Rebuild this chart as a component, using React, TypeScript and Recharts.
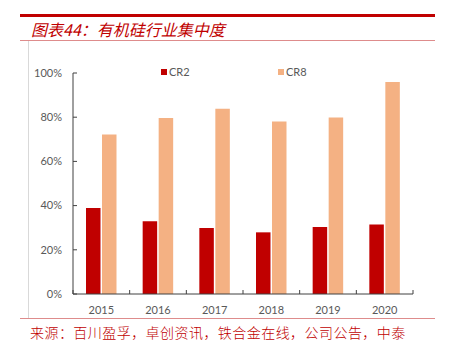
import React from "react";
import { BarChart, Bar, XAxis, YAxis } from "recharts";

const years = ["2015", "2016", "2017", "2018", "2019", "2020"];
const cr2 = [38.9, 32.9, 29.9, 27.9, 30.3, 31.5];
const cr8 = [72.2, 79.6, 83.8, 78.1, 79.9, 95.9];
const yTicks = [0, 20, 40, 60, 80, 100];

const seriesNames = ["CR2", "CR8"];
const seriesColors = ["#C00000", "#F4B183"];

const chartData = years.map((year, i) => ({ year, CR2: cr2[i], CR8: cr8[i] }));

const W = 449;
const H = 348;
const margin = { top: 73, right: 36, bottom: 24, left: 33 };
const yAxisWidth = 40;
const xAxisHeight = 30;
const plotWidth = W - margin.left - margin.right - yAxisWidth;
const band = plotWidth / years.length;

const RED = "#C00000";
const LINE_PINK = "#DE8C8C";
const AXIS = "#404040";
const TEXT_GRAY = "#595959";
const FONT = "Lato, 'Noto Sans', sans-serif";

function XTick(props: any) {
  const { x, y, payload, index } = props;
  const isLast = index === years.length - 1;
  return (
    <g>
      <line x1={x - band / 2} x2={x - band / 2} y1={y} y2={y - 4} stroke={AXIS} />
      {isLast && <line x1={x + band / 2} x2={x + band / 2} y1={y} y2={y - 4} stroke={AXIS} />}
      <text x={x} y={y + 16} dy="0.35em" textAnchor="middle" fill={TEXT_GRAY} fontSize={11} fontFamily={FONT}>
        {payload.value}
      </text>
    </g>
  );
}

function YTick(props: any) {
  const { x, y, payload } = props;
  return (
    <g>
      <line x1={x} x2={x + 4} y1={y} y2={y} stroke={AXIS} />
      <text x={x - 11} y={y} dy="0.35em" textAnchor="end" fill={TEXT_GRAY} fontSize={11} fontFamily={FONT}>
        {`${payload.value}%`}
      </text>
    </g>
  );
}

const legendLefts = [161, 278];

export default function App() {
  return (
    <div style={{ position: "absolute", left: 0, top: 0, width: W, height: H, background: "#fff", overflow: "hidden" }}>
      <div style={{ position: "absolute", left: 20, top: 14, width: 415, height: 3, background: RED }} />
      <div
        style={{
          position: "absolute",
          left: 31,
          top: 21,
          fontSize: 16,
          lineHeight: "16px",
          color: RED,
          fontStyle: "italic",
          fontFamily: "'Noto Sans CJK SC', sans-serif",
          whiteSpace: "nowrap",
        }}
      >
        图表44：有机硅行业集中度
      </div>
      <div style={{ position: "absolute", left: 20, top: 40, width: 415, height: 1, background: LINE_PINK }} />
      <div style={{ position: "absolute", left: 28, top: 41, width: 1, height: 277, background: "#D9D9D9" }} />
      <div style={{ position: "absolute", left: 20, top: 318, width: 415, height: 1, background: LINE_PINK }} />
      <div
        style={{
          position: "absolute",
          left: 30,
          top: 325,
          fontSize: 14,
          lineHeight: "14px",
          letterSpacing: "0.45px",
          color: RED,
          fontWeight: 300,
          fontFamily: "'Noto Sans CJK SC', sans-serif",
          whiteSpace: "nowrap",
        }}
      >
        来源：百川盈孚，卓创资讯，铁合金在线，公司公告，中泰
      </div>

      {seriesNames.map((name, i) => (
        <div
          key={name}
          style={{
            position: "absolute",
            left: legendLefts[i],
            top: 65,
            display: "flex",
            alignItems: "center",
            fontSize: 11,
            lineHeight: "14px",
            color: TEXT_GRAY,
            fontFamily: FONT,
          }}
        >
          <span style={{ display: "inline-block", width: 6, height: 6, background: seriesColors[i], marginRight: 2 }} />
          {name}
        </div>
      ))}

      <div style={{ position: "absolute", left: 0, top: 0 }}>
        <BarChart width={W} height={H} data={chartData} margin={margin} barSize={14.5} barGap={1.5}>
          <XAxis
            dataKey="year"
            height={xAxisHeight}
            axisLine={{ stroke: AXIS }}
            tickLine={false}
            tickSize={0}
            tickMargin={0}
            tick={<XTick />}
            interval={0}
          />
          <YAxis
            width={yAxisWidth}
            domain={[0, 100]}
            ticks={yTicks}
            axisLine={{ stroke: AXIS }}
            tickLine={false}
            tickSize={0}
            tickMargin={0}
            tick={<YTick />}
            interval={0}
          />
          {seriesNames.map((name, i) => (
            <Bar key={name} dataKey={name} fill={seriesColors[i]} isAnimationActive={false} />
          ))}
        </BarChart>
      </div>
    </div>
  );
}
